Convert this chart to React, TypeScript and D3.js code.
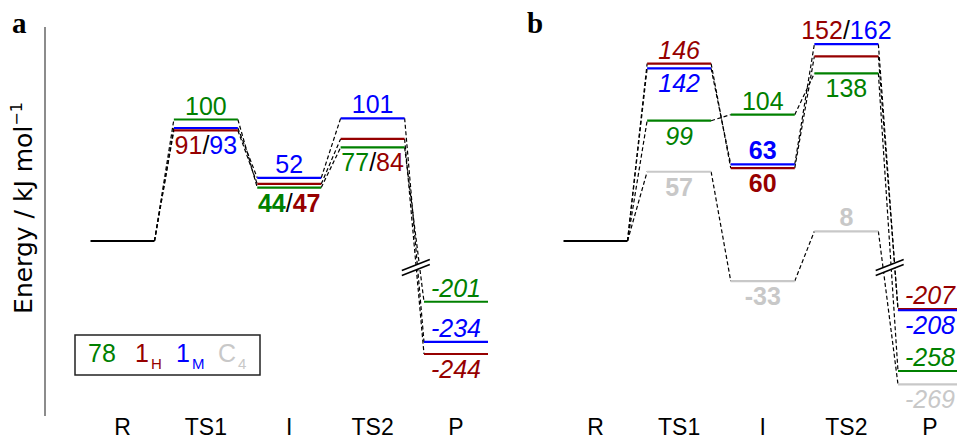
import * as d3 from "d3";

const stages = ["R", "TS1", "I", "TS2", "P"];

// energies (kJ/mol) at R, TS1, I, TS2, P
const a78 = [0, 100, 44, 77, -201];
const a1H = [0, 91, 47, 84, -244];
const a1M = [0, 93, 52, 101, -234];

const b78 = [0, 99, 104, 138, -258];
const b1H = [0, 146, 60, 152, -207];
const b1M = [0, 142, 63, 162, -208];
const bC4 = [0, 57, -33, 8, -269];

const legendKeys = ["78", "1H", "1M", "C4"];
const legendMain = ["78", "1", "1", "C"];
const legendSub = ["", "H", "M", "4"];

type Lab = { stage: number; keys: string[]; side: "above" | "below"; bold?: boolean; italic?: boolean };

const labelsA: Lab[] = [
  { stage: 1, keys: ["78"], side: "above" },
  { stage: 1, keys: ["1H", "1M"], side: "below" },
  { stage: 2, keys: ["1M"], side: "above" },
  { stage: 2, keys: ["78", "1H"], side: "below", bold: true },
  { stage: 3, keys: ["1M"], side: "above" },
  { stage: 3, keys: ["78", "1H"], side: "below" },
  { stage: 4, keys: ["78"], side: "above", italic: true },
  { stage: 4, keys: ["1M"], side: "above", italic: true },
  { stage: 4, keys: ["1H"], side: "below", italic: true },
];

const labelsB: Lab[] = [
  { stage: 1, keys: ["1H"], side: "above", italic: true },
  { stage: 1, keys: ["1M"], side: "below", italic: true },
  { stage: 1, keys: ["78"], side: "below", italic: true },
  { stage: 1, keys: ["C4"], side: "below", bold: true },
  { stage: 2, keys: ["78"], side: "above" },
  { stage: 2, keys: ["1M"], side: "above", bold: true },
  { stage: 2, keys: ["1H"], side: "below", bold: true },
  { stage: 2, keys: ["C4"], side: "below", bold: true },
  { stage: 3, keys: ["1H", "1M"], side: "above" },
  { stage: 3, keys: ["78"], side: "below" },
  { stage: 3, keys: ["C4"], side: "above", bold: true },
  { stage: 4, keys: ["1H"], side: "above", italic: true },
  { stage: 4, keys: ["1M"], side: "below", italic: true },
  { stage: 4, keys: ["78"], side: "above", italic: true },
  { stage: 4, keys: ["C4"], side: "below", italic: true },
];

const colors: Record<string, string> = {
  "78": "#008000",
  "1H": "#960000",
  "1M": "#0000ff",
  C4: "#c8c8c8",
};

const W = 957;
const H = 440;
const numFont = "'Liberation Sans', Arial, sans-serif";
const breakShift = 151; // kJ hidden by the axis break before P
const halfW = 32;

const y = d3.scaleLinear().domain([0, 100]).range([241, 119.5]);
const yAt = (v: number, i: number) => (stages[i] === "P" ? y(v + breakShift) : y(v));

function Panel({ series, labels, range, letter, letterX, axis }: {
  series: Record<string, number[]>;
  labels: Lab[];
  range: [number, number];
  letter: string;
  letterX: number;
  axis: boolean;
}) {
  const x = d3.scalePoint<string>().domain(stages).range(range);
  const keys = Object.keys(series);
  const drawOrder = ["C4", "78", "1H", "1M"].filter((k) => keys.includes(k));

  const bx = (x("TS2")! + halfW + x("P")! - halfW) / 2 + 1.5;
  const by = 267;

  return (
    <g>
      <text x={letterX} y={33} fontFamily="'Liberation Serif', serif" fontWeight="bold" fontSize={29}>
        {letter}
      </text>
      {axis && (
        <g>
          <line x1={45} x2={45} y1={27} y2={416} stroke="#666" strokeWidth={1.5} />
          <text
            transform={`translate(32,${208}) rotate(-90)`}
            textAnchor="middle"
            fontFamily="'DejaVu Sans', sans-serif"
            fontSize={25}
          >
            Energy / kJ mol
            <tspan dy={-10} fontSize={16}>−1</tspan>
          </text>
        </g>
      )}
      {/* connectors */}
      <g stroke="#000" strokeWidth={1.2} strokeDasharray="4 2.5" fill="none">
        {drawOrder.map((k) =>
          series[k].slice(0, -1).map((v, i) => (
            <line
              key={k + i}
              x1={x(stages[i])! + halfW}
              y1={yAt(v, i)}
              x2={x(stages[i + 1])! - halfW}
              y2={yAt(series[k][i + 1], i + 1)}
            />
          ))
        )}
      </g>
      {/* axis break */}
      <g>
        <polygon
          points={`${bx - 14},${by + 3.5} ${bx + 14},${by - 7.5} ${bx + 14},${by - 2.5} ${bx - 14},${by + 8.5}`}
          fill="#fff"
        />
        <line x1={bx - 14} y1={by + 3.5} x2={bx + 14} y2={by - 7.5} stroke="#000" strokeWidth={1.5} />
        <line x1={bx - 14} y1={by + 8.5} x2={bx + 14} y2={by - 2.5} stroke="#000" strokeWidth={1.5} />
      </g>
      {/* levels */}
      <line x1={x("R")! - halfW} x2={x("R")! + halfW} y1={y(0)} y2={y(0)} stroke="#000" strokeWidth={2} />
      {drawOrder.map((k) =>
        series[k].slice(1).map((v, j) => {
          const i = j + 1;
          return (
            <line
              key={k + i}
              x1={x(stages[i])! - halfW}
              x2={x(stages[i])! + halfW}
              y1={yAt(v, i)}
              y2={yAt(v, i)}
              stroke={colors[k]}
              strokeWidth={2.2}
            />
          );
        })
      )}
      {/* value labels */}
      {labels.map((l, n) => {
        const ys = l.keys.map((k) => yAt(series[k][l.stage], l.stage));
        const ty = l.side === "above" ? Math.min(...ys) - 5 : Math.max(...ys) + 24;
        return (
          <text
            key={n}
            x={x(stages[l.stage])}
            y={ty}
            textAnchor="middle"
            fontFamily={numFont}
            fontSize={25}
            fontStyle={l.italic ? "italic" : "normal"}
          >
            {l.keys.map((k, m) => (
              <tspan key={k}>
                {m > 0 && <tspan fill="#000" fontWeight="normal">/</tspan>}
                <tspan fill={colors[k]} fontWeight={l.bold ? "bold" : "normal"}>
                  {String(series[k][l.stage])}
                </tspan>
              </tspan>
            ))}
          </text>
        );
      })}
      {/* stage ticks */}
      {stages.map((s) => (
        <text key={s} x={x(s)} y={435} textAnchor="middle" fontFamily={numFont} fontSize={23}>
          {s}
        </text>
      ))}
    </g>
  );
}

function Legend() {
  const lx = [88, 135, 176, 218];
  return (
    <g fontFamily={numFont}>
      <rect x={75} y={335} width={185} height={40} fill="#fff" stroke="#222" strokeWidth={1.5} />
      {legendKeys.map((k, i) => (
        <text key={k} x={lx[i]} y={362} fill={colors[k]} fontSize={25}>
          {legendMain[i]}
          {legendSub[i] && (
            <tspan dx={2} dy={7} fontSize={15}>
              {legendSub[i]}
            </tspan>
          )}
        </text>
      ))}
    </g>
  );
}

export default function App() {
  return (
    <svg width={W} height={H} style={{ position: "absolute", left: 0, top: 0, background: "#fff" }}>
      <Panel
        series={{ "78": a78, "1H": a1H, "1M": a1M }}
        labels={labelsA}
        range={[122.5, 456]}
        letter="a"
        letterX={12}
        axis
      />
      <Panel
        series={{ "78": b78, "1H": b1H, "1M": b1M, C4: bC4 }}
        labels={labelsB}
        range={[595.5, 930]}
        letter="b"
        letterX={527}
        axis={false}
      />
      <Legend />
    </svg>
  );
}
